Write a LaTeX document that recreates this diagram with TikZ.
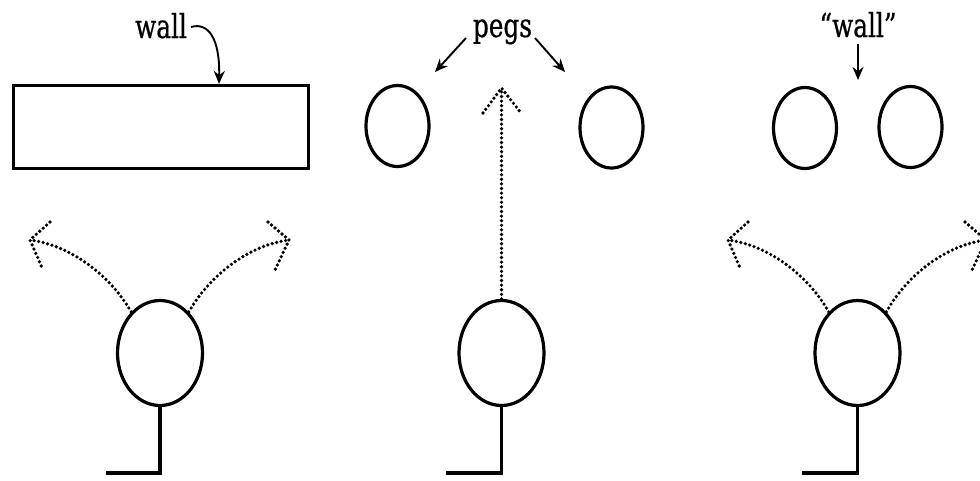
\documentclass[tikz,border=0pt]{standalone}
\usepackage{fontspec}
\newfontfamily\lblfont[FakeStretch=0.75,FakeBold=0.6]{DejaVu Serif}
\usetikzlibrary{shapes.geometric,arrows.meta}
\tikzset{
  headshape/.style={ellipse,draw,line width=3.2pt,inner sep=0pt,minimum width=85pt,minimum height=105pt},
  pegshape/.style={ellipse,draw,line width=3.2pt,inner sep=0pt,minimum width=63pt,minimum height=81pt},
  wallshape/.style={rectangle,draw,line width=3.2pt,inner sep=0pt,minimum width=295pt,minimum height=83pt},
  leg/.style={line width=3.2pt},
  dotline/.style={line width=3.6pt,line cap=round,dash pattern=on 0pt off 4.6pt},
  pointer/.style={line width=1.9pt,-{Stealth[length=13pt,width=11pt]}},
  lbl/.style={inner sep=0pt,anchor=base,font=\lblfont\fontsize{33}{38}\selectfont},
}
\begin{document}
\begin{tikzpicture}[x=1pt,y=-1pt]
\useasboundingbox (0,0) rectangle (980,480);
\clip (0,0) rectangle (980,480);
% ---------- panel 1 ----------
\node[wallshape] (wall) at (161,127) {};
\node[lbl] (walllbl) at (161,38) {wall};
\coordinate (wa) at (191,27);
\draw[pointer] (wa) .. controls (208,22) and (220,38) .. (wall.north -| 219,0);
\node[headshape] (h1) at (160,353) {};
\coordinate (f1a) at (160,473);
\coordinate (f1b) at (106,473);
\draw[leg] (h1.south) -- (f1a) -- (f1b);
\coordinate (t1l) at (30,240);
\coordinate (t1r) at (289,240);
\draw[dotline] (h1.125) .. controls (110,275) and (70,245) .. (t1l);
\draw[dotline] (50,222) -- (t1l) -- (43,270);
\draw[dotline] (h1.55) .. controls (210,275) and (249,245) .. (t1r);
\draw[dotline] (268,222) -- (t1r) -- (275,270);
% ---------- panel 2 ----------
\node[pegshape] (p1) at (397.5,126) {};
\node[pegshape] (p2) at (611.5,127.5) {};
\node[lbl] (pegslbl) at (502.5,37) {pegs};
\coordinate (pa) at (466,38);
\coordinate (pb) at (435,72);
\coordinate (pc) at (535,38);
\coordinate (pd) at (565,72);
\draw[pointer] (pa) -- (pb);
\draw[pointer] (pc) -- (pd);
\node[headshape] (h2) at (501.5,353) {};
\coordinate (f2a) at (501.5,473);
\coordinate (f2b) at (446,473);
\draw[leg] (h2.south) -- (f2a) -- (f2b);
\coordinate (t2) at (501.5,88);
\draw[dotline] (h2.north) -- (t2);
\draw[dotline] (483,113) -- (t2) -- (521,113);
% ---------- panel 3 ----------
\node[pegshape] (p3) at (805,128) {};
\node[pegshape] (p4) at (910.5,127) {};
\node[lbl] (wall2lbl) at (858,37) {“wall”};
\coordinate (wb) at (858,44);
\coordinate (wc) at (858,80);
\draw[pointer] (wb) -- (wc);
\node[headshape] (h3) at (857.5,353) {};
\coordinate (f3a) at (857.5,473);
\coordinate (f3b) at (802,473);
\draw[leg] (h3.south) -- (f3a) -- (f3b);
\coordinate (t3l) at (728,240);
\coordinate (t3r) at (986,240);
\draw[dotline] (h3.125) .. controls (808,275) and (768,245) .. (t3l);
\draw[dotline] (748,222) -- (t3l) -- (741,270);
\draw[dotline] (h3.55) .. controls (907,275) and (946,245) .. (t3r);
\draw[dotline] (965,222) -- (t3r) -- (972,270);
\end{tikzpicture}
\end{document}
